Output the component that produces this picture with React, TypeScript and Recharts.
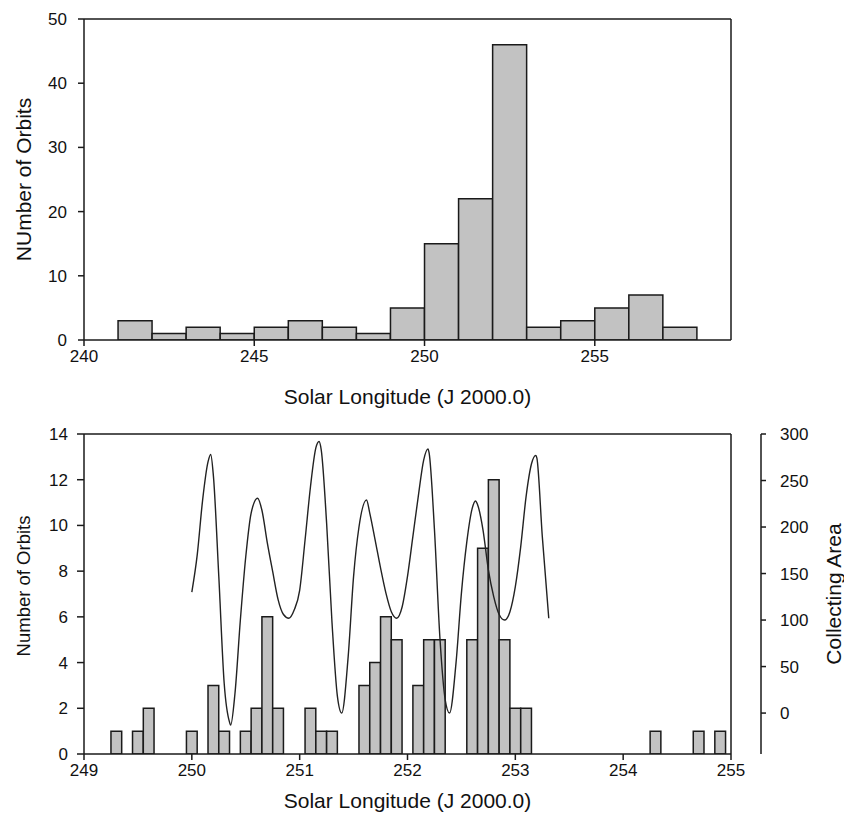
import React from "react";
import { ComposedChart, Bar, Line, XAxis, YAxis } from "recharts";

// upper panel: 1 degree bins (bin centres)
const topBins = [
  241.5, 242.5, 243.5, 244.5, 245.5, 246.5, 247.5, 248.5, 249.5, 250.5, 251.5,
  252.5, 253.5, 254.5, 255.5, 256.5, 257.5,
];
const topCounts = [3, 1, 2, 1, 2, 3, 2, 1, 5, 15, 22, 46, 2, 3, 5, 7, 2];
const topXTicks = [240, 245, 250, 255];
const topYTicks = [0, 10, 20, 30, 40, 50];

// lower panel: 0.1 degree bins (bin centres)
const lowBins = [
  249.3, 249.5, 249.6, 250.0, 250.2, 250.3, 250.5, 250.6, 250.7, 250.8, 251.1,
  251.2, 251.3, 251.6, 251.7, 251.8, 251.9, 252.1, 252.2, 252.3, 252.6, 252.7,
  252.8, 252.9, 253.0, 253.1, 254.3, 254.7, 254.9,
];
const lowCounts = [
  1, 1, 2, 1, 3, 1, 1, 2, 6, 2, 2, 1, 1, 3, 4, 6, 5, 3, 5, 5, 5, 9, 12, 5, 2, 2,
  1, 1, 1,
];
const lowXTicks = [249, 250, 251, 252, 253, 254, 255];
const lowYTicks = [0, 2, 4, 6, 8, 10, 12, 14];

// collecting area curve
const curveLon = [
  250.0, 250.05, 250.1, 250.15, 250.175, 250.2, 250.25, 250.3, 250.35, 250.36,
  250.4, 250.45, 250.5, 250.55, 250.61, 250.65, 250.7, 250.75, 250.8, 250.85,
  250.9, 250.95, 251.0, 251.05, 251.1, 251.15, 251.18, 251.2, 251.25, 251.3,
  251.35, 251.39, 251.45, 251.5, 251.55, 251.62, 251.65, 251.7, 251.75, 251.8,
  251.85, 251.9, 251.95, 252.0, 252.05, 252.1, 252.15, 252.19, 252.2, 252.25,
  252.3, 252.35, 252.39, 252.45, 252.5, 252.55, 252.6, 252.63, 252.65, 252.7,
  252.75, 252.8, 252.85, 252.9, 252.95, 253.0, 253.05, 253.1, 253.15, 253.19,
  253.2, 253.25, 253.31,
];
const curveArea = [
  130, 170, 229, 270, 278, 255, 147, 32, -10, -13,
  21, 100, 168, 215, 231, 218, 183, 152, 122, 106,
  102, 111, 132, 186, 243, 285, 292, 283, 204, 97,
  18, 0, 61, 147, 200, 229, 215, 186, 156, 129,
  109, 102, 114, 147, 190, 233, 272, 284, 280, 197,
  82, 14, 0, 54, 129, 184, 220, 228, 224, 197,
  154, 125, 106, 100, 109, 136, 179, 233, 268, 277,
  274, 190, 102,
];
const areaTicks = [0, 50, 100, 150, 200, 250, 300];
const minorTicks = Array.from({ length: 59 }, (_, i) => 249.1 + i * 0.1);

const topData = topBins.map((lon, i) => ({ lon, count: topCounts[i] }));
const lowData = lowBins.map((lon, i) => ({ lon, count: lowCounts[i] }));
const curveData = curveLon.map((lon, i) => ({ lon, area: curveArea[i] }));

const INK = "#1a1a1a";
const FILL = "#c2c2c2";
const line = { stroke: INK, strokeWidth: 1.5 };
const tickText = { fill: "#111", fontSize: 17 };

const plotWidth = 844 - 84 - 113;
const topDomain = [240, 259];
const lowDomain = [249, 255];
const topBarSize = (plotWidth / (topDomain[1] - topDomain[0])) * 1 - 0.05;
const lowBarSize = (plotWidth / (lowDomain[1] - lowDomain[0])) * 0.1 - 0.05;

const verticalTitle =
  (text: string, dx: number, dy: number, size: number) => (props: any) => {
    const vb = props.viewBox;
    const cx = vb.x + dx;
    const cy = vb.y + vb.height / 2 + dy;
    return (
      <text
        x={cx}
        y={cy}
        transform={`rotate(-90 ${cx} ${cy})`}
        textAnchor="middle"
        dominantBaseline="central"
        fontSize={size}
        fill="#111"
      >
        {text}
      </text>
    );
  };

const horizontalTitle = (text: string, dy: number, size: number) => (props: any) => {
  const vb = props.viewBox;
  return (
    <text
      x={vb.x + vb.width / 2}
      y={vb.y + dy}
      textAnchor="middle"
      dominantBaseline="central"
      fontSize={size}
      fill="#111"
    >
      {text}
    </text>
  );
};

function TopPanel() {
  return (
    <ComposedChart
      width={844}
      height={415}
      data={topData}
      margin={{ top: 19, right: 112, bottom: 0, left: 0 }}
    >
      <XAxis
        xAxisId="main"
        dataKey="lon"
        type="number"
        domain={topDomain}
        allowDataOverflow
        ticks={topXTicks}
        interval={0}
        height={75}
        tickSize={6}
        tickMargin={4}
        tick={tickText}
        axisLine={line}
        tickLine={line}
        label={{ content: horizontalTitle("Solar Longitude (J 2000.0)", 56, 21) }}
      />
      <XAxis
        xAxisId="top"
        orientation="top"
        mirror
        type="number"
        domain={topDomain}
        allowDataOverflow
        ticks={topXTicks}
        interval={0}
        tick={false}
        tickSize={6}
        axisLine={line}
        tickLine={line}
      />
      <YAxis
        yAxisId="count"
        type="number"
        domain={[0, 50]}
        allowDataOverflow
        ticks={topYTicks}
        interval={0}
        width={84}
        tickSize={6}
        tickMargin={11}
        tick={tickText}
        axisLine={line}
        tickLine={line}
        label={{ content: verticalTitle("NUmber of Orbits", 23, 0, 21) }}
      />
      <YAxis
        yAxisId="frame"
        orientation="right"
        width={1}
        domain={[0, 50]}
        tick={false}
        tickLine={false}
        axisLine={line}
      />
      <Bar
        xAxisId="main"
        yAxisId="count"
        dataKey="count"
        barSize={topBarSize}
        fill={FILL}
        stroke={INK}
        strokeWidth={1.5}
        isAnimationActive={false}
      />
    </ComposedChart>
  );
}

function LowerPanel() {
  return (
    <ComposedChart
      width={844}
      height={400}
      data={lowData}
      margin={{ top: 15, right: 0, bottom: 0, left: 0 }}
    >
      <XAxis
        xAxisId="main"
        dataKey="lon"
        type="number"
        domain={lowDomain}
        allowDataOverflow
        ticks={lowXTicks}
        interval={0}
        height={61}
        tickSize={6}
        tickMargin={4}
        tick={tickText}
        axisLine={line}
        tickLine={line}
        label={{ content: horizontalTitle("Solar Longitude (J 2000.0)", 46, 21) }}
      />
      <XAxis
        xAxisId="minorBottom"
        mirror
        type="number"
        domain={lowDomain}
        allowDataOverflow
        ticks={minorTicks}
        interval={0}
        tick={false}
        tickSize={3}
        axisLine={false}
        tickLine={line}
      />
      <XAxis
        xAxisId="minorTop"
        orientation="top"
        type="number"
        domain={lowDomain}
        allowDataOverflow
        ticks={minorTicks}
        interval={0}
        height={4}
        tick={false}
        tickSize={4}
        axisLine={line}
        tickLine={line}
      />
      <XAxis
        xAxisId="majorTop"
        orientation="top"
        mirror
        type="number"
        domain={lowDomain}
        allowDataOverflow
        ticks={lowXTicks}
        interval={0}
        tick={false}
        tickSize={5}
        axisLine={false}
        tickLine={line}
      />
      <XAxis
        xAxisId="curve"
        dataKey="lon"
        type="number"
        domain={lowDomain}
        allowDataOverflow
        height={0}
        hide
      />
      <YAxis
        yAxisId="count"
        type="number"
        domain={[0, 14]}
        allowDataOverflow
        ticks={lowYTicks}
        interval={0}
        width={84}
        tickSize={7}
        tickMargin={9}
        tick={tickText}
        axisLine={line}
        tickLine={line}
        label={{ content: verticalTitle("Number of Orbits", 23, -8, 18.5) }}
      />
      <YAxis
        yAxisId="r1frame"
        orientation="right"
        width={30}
        domain={[0, 14]}
        tick={false}
        tickLine={false}
        axisLine={line}
      />
      <YAxis
        yAxisId="r2area"
        orientation="right"
        type="number"
        domain={[-44, 300]}
        allowDataOverflow
        ticks={areaTicks}
        interval={0}
        width={83}
        tickSize={5}
        tickMargin={14}
        tick={tickText}
        axisLine={line}
        tickLine={line}
        label={{ content: verticalTitle("Collecting Area", 72, 0, 21) }}
      />
      <Bar
        xAxisId="main"
        yAxisId="count"
        dataKey="count"
        barSize={lowBarSize}
        fill={FILL}
        stroke={INK}
        strokeWidth={1.5}
        isAnimationActive={false}
      />
      <Line
        xAxisId="curve"
        yAxisId="r2area"
        data={curveData}
        dataKey="area"
        type="monotone"
        dot={false}
        stroke="#222"
        strokeWidth={1.4}
        isAnimationActive={false}
      />
    </ComposedChart>
  );
}

export default function App() {
  return (
    <div
      style={{
        position: "absolute",
        left: 0,
        top: 0,
        width: 844,
        height: 815,
        background: "#fff",
        fontFamily: '"Liberation Sans", Arial, sans-serif',
      }}
    >
      <div style={{ position: "absolute", left: 0, top: 0 }}>
        <TopPanel />
      </div>
      <div style={{ position: "absolute", left: 0, top: 415 }}>
        <LowerPanel />
      </div>
    </div>
  );
}
